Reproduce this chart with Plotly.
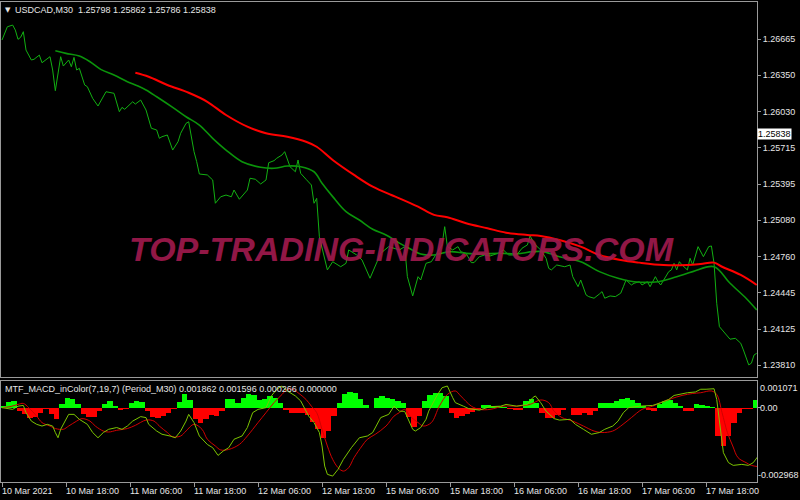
import plotly.graph_objects as go

# ---------------- data (bar index = M30 bars from 10 Mar 2021 00:00) ----------------
price_bar = [0, 2, 4, 5, 6, 7, 8, 9, 11, 12, 14, 15, 18, 19, 20, 22, 23, 25, 26, 27, 28, 29, 31, 32, 34, 36, 39, 42, 44, 45,
             46, 49, 50, 52, 54, 56, 58, 59, 60, 62, 64, 66, 67, 69, 70, 72, 73, 74, 77, 79, 80, 82, 84, 86, 87, 89, 92, 93,
             95, 97, 99, 100, 102, 103, 105, 106, 108, 110, 111, 112, 114, 116, 117, 118, 119, 122, 124, 127, 129, 130, 133,
             135, 138, 140, 142, 145, 149, 151, 152, 154, 156, 157, 159, 161, 163, 165, 166, 167, 169, 171, 172, 174, 176,
             177, 179, 181, 183, 186, 188, 190, 193, 195, 197, 198, 200, 202, 204, 205, 206, 208, 211, 213, 214, 216, 217,
             219, 220, 222, 224, 225, 226, 228, 230, 232, 233, 234, 236, 237, 239, 240, 242, 243, 245, 246, 247, 249, 250,
             251, 252, 253, 254, 255, 257, 258, 259, 261, 262, 263, 265, 266, 267, 268, 269, 271, 273, 275, 277, 278, 280,
             281, 282, 283]
price_close = [1.26659, 1.26775, 1.26790, 1.26746, 1.26665, 1.26683, 1.26732, 1.26571, 1.26484, 1.26490, 1.26527, 1.26460,
               1.26513, 1.26396, 1.26215, 1.26513, 1.26431, 1.26484, 1.26425, 1.26507, 1.26396, 1.26411, 1.26265, 1.26250,
               1.26148, 1.26081, 1.26206, 1.26192, 1.26031, 1.26069, 1.26052, 1.26118, 1.26098, 1.26133, 1.26046, 1.25886,
               1.25871, 1.25798, 1.25812, 1.25827, 1.25695, 1.25768, 1.25842, 1.25929, 1.25943, 1.25681, 1.25593, 1.25485,
               1.25477, 1.25433, 1.25229, 1.25286, 1.25301, 1.25286, 1.25345, 1.25264, 1.25345, 1.25448, 1.25439, 1.25398,
               1.25433, 1.25584, 1.25602, 1.25623, 1.25652, 1.25681, 1.25549, 1.25505, 1.25608, 1.25491, 1.25439, 1.25389,
               1.25229, 1.25272, 1.24936, 1.24645, 1.24717, 1.24673, 1.24703, 1.24820, 1.24776, 1.24732, 1.24572, 1.24688,
               1.24791, 1.24849, 1.24820, 1.24849, 1.24586, 1.24417, 1.24586, 1.24557, 1.24703, 1.24717, 1.24791, 1.24864,
               1.25024, 1.24849, 1.24820, 1.24849, 1.24805, 1.24791, 1.24709, 1.24709, 1.24761, 1.24776, 1.24767, 1.24791,
               1.24820, 1.24776, 1.24776, 1.24835, 1.24864, 1.24942, 1.24864, 1.24820, 1.24747, 1.24659, 1.24645, 1.24688,
               1.24673, 1.24688, 1.24586, 1.24498, 1.24557, 1.24426, 1.24411, 1.24397, 1.24434, 1.24455, 1.24397, 1.24417,
               1.24411, 1.24441, 1.24498, 1.24557, 1.24513, 1.24528, 1.24542, 1.24513, 1.24542, 1.24498, 1.24586, 1.24542,
               1.24513, 1.24586, 1.24630, 1.24645, 1.24703, 1.24645, 1.24717, 1.24688, 1.24645, 1.24747, 1.24688, 1.24849,
               1.24805, 1.24761, 1.24849, 1.24855, 1.24703, 1.24353, 1.24148, 1.24090, 1.24038, 1.24046, 1.24003, 1.23944,
               1.23813, 1.23828, 1.23900, 1.23915]

ma_fast_bar = [20, 24, 29, 33, 37, 42, 47, 51, 54, 58, 64, 69, 74, 79, 84, 90, 97, 102, 107, 112, 117, 120, 124, 129, 134,
               139, 144, 149, 153, 157, 162, 168, 174, 180, 187, 193, 199, 203, 209, 217, 224, 231, 237, 246, 253, 259, 267,
               273, 279, 283]
ma_fast = [1.26565, 1.26542, 1.26519, 1.26469, 1.26402, 1.26352, 1.26294, 1.26256, 1.26221, 1.26162, 1.26069, 1.25987,
           1.25914, 1.25798, 1.25695, 1.25593, 1.25544, 1.25535, 1.25555, 1.25549, 1.25505, 1.25404, 1.25287, 1.25155,
           1.25082, 1.25001, 1.24951, 1.24880, 1.24830, 1.24785, 1.24776, 1.24805, 1.24790, 1.24785, 1.24791, 1.24785,
           1.24805, 1.24805, 1.24761, 1.24717, 1.24630, 1.24572, 1.24542, 1.24542, 1.24586, 1.24630, 1.24673, 1.24528,
           1.24397, 1.24294]

ma_slow_bar = [50, 55, 62, 70, 77, 84, 92, 99, 107, 114, 118, 124, 132, 139, 146, 149, 156, 162, 167, 174, 182, 189, 197,
               202, 209, 217, 224, 232, 239, 248, 257, 262, 267, 270, 277, 283]
ma_slow = [1.26372, 1.26337, 1.26265, 1.26197, 1.26118, 1.26002, 1.25900, 1.25842, 1.25812, 1.25768, 1.25724, 1.25608,
           1.25477, 1.25374, 1.25301, 1.25272, 1.25199, 1.25127, 1.25106, 1.25054, 1.25010, 1.24971, 1.24951, 1.24942,
           1.24907, 1.24849, 1.24776, 1.24732, 1.24709, 1.24688, 1.24688, 1.24697, 1.24709, 1.24673, 1.24601, 1.24513]

# MACD histogram, one value per 2 bars
hist_step = 2
hist = [0.00006, 0.00024, 0.00028, -0.00013, -0.00027, -0.00040, -0.00036, -0.00020, -0.00005, -0.00025,
        -0.00044, 0.00013, 0.00040, 0.00036, 0.00016, -0.00025, -0.00036, -0.00038, -0.00013, 0.00013,
        0.00025, 0.00006, -0.00008, -0.00004, 0.00019, 0.00027, 0.00023, -0.00014, -0.00036, -0.00040,
        -0.00032, -0.00021, -0.00005, 0.00023, 0.00055, 0.00030, -0.00044, -0.00060, -0.00044, -0.00030,
        -0.00032, -0.00012, 0.00033, 0.00035, 0.00019, 0.00040, 0.00053, 0.00050, 0.00031, 0.00035,
        0.00046, 0.00040, 0.00020, -0.00008, -0.00022, -0.00022, -0.00022, -0.00029, -0.00056, -0.00087,
        -0.00120, -0.00094, -0.00032, 0.00019, 0.00053, 0.00062, 0.00060, 0.00033, 0.00009, -0.00003,
        0.00040, 0.00046, 0.00040, 0.00033, 0.00026, 0.00020, -0.00036, -0.00078, -0.00032, 0.00028,
        0.00050, 0.00057, 0.00057, 0.00045, -0.00022, -0.00040, -0.00034, -0.00024, -0.00018, -0.00009,
        0.00009, 0.00009, 0.00006, 0.00006, 0.00002, -0.00005, -0.00011, -0.00008, 0.00027, 0.00035,
        0.00020, -0.00022, -0.00042, -0.00040, -0.00029, -0.00008, -0.00002, -0.00029, -0.00029, -0.00022,
        -0.00029, -0.00013, 0.00020, 0.00020, 0.00020, 0.00025, 0.00033, 0.00040, 0.00031, 0.00020,
        0.00006, -0.00008, -0.00012, 0.00013, 0.00025, 0.00029, 0.00020, 0.00006, -0.00012, -0.00012,
        0.00013, 0.00010, 0.00006, 0.00004, -0.00114, -0.00154, -0.00114, -0.00061, -0.00022, -0.00006,
        -0.00006, 0.00029]

macd_bar = [0, 2, 4, 6, 8, 9, 11, 13, 15, 17, 19, 20, 21, 22, 24, 25, 27, 29, 32, 34, 36, 38, 40, 43, 45, 47, 49, 52, 54,
            55, 58, 60, 63, 65, 67, 69, 70, 72, 74, 77, 79, 81, 83, 85, 87, 90, 92, 94, 96, 99, 101, 103, 105, 107, 110,
            112, 115, 117, 119, 120, 121, 122, 124, 126, 128, 131, 134, 137, 139, 141, 142, 145, 147, 149, 151, 154, 155,
            157, 159, 160, 163, 165, 167, 169, 170, 173, 175, 179, 183, 187, 189, 193, 197, 199, 200, 202, 204, 207, 209,
            213, 215, 218, 221, 224, 226, 229, 231, 233, 235, 239, 244, 247, 250, 252, 255, 257, 260, 262, 264, 267, 268,
            269.3, 270.5, 272.4, 274.2, 277.4, 279.9, 281.7, 283.6]
macd = [0.0, -0.00004, -0.00007, 0.00006, 0.00009, -0.00020, -0.00054, -0.00067, -0.00074, -0.00067, -0.00074, -0.00100,
        -0.00121, -0.00087, -0.00047, -0.00027, -0.00027, -0.00047, -0.00067, -0.00100, -0.00121, -0.00100, -0.00087,
        -0.00080, -0.00087, -0.00074, -0.00054, -0.00036, -0.00040, -0.00067, -0.00094, -0.00107, -0.00114, -0.00121,
        -0.00094, -0.00054, -0.00027, -0.00060, -0.00114, -0.00148, -0.00161, -0.00192, -0.00174, -0.00161, -0.00127,
        -0.00114, -0.00080, -0.00020, -0.00007, 0.0, 0.00047, 0.00074, 0.00087, 0.00067, 0.00047, 0.00027, -0.00034,
        -0.00060, -0.00100, -0.00154, -0.00235, -0.00268, -0.00275, -0.00248, -0.00208, -0.00161, -0.00121, -0.00114,
        -0.00100, -0.00060, -0.00040, -0.00027, 0.00006, -0.00014, -0.00015, -0.00087, -0.00094, -0.00080, -0.00047,
        -0.00014, 0.00047, 0.00080, 0.00087, 0.00040, 0.00020, 0.00006, -0.00004, -0.00010, 0.00004, 0.00006, 0.00013,
        0.00006, 0.00013, 0.00040, 0.00047, 0.00020, -0.00014, -0.00044, -0.00050, -0.00047, -0.00067, -0.00087,
        -0.00107, -0.00100, -0.00087, -0.00074, -0.00054, -0.00020, 0.0, 0.00006, 0.00009, 0.00020, 0.00033, 0.00049,
        0.00057, 0.00060, 0.00063, 0.00074, 0.00074, 0.00076, 0.00033, -0.00087, -0.00181, -0.00221, -0.00232,
        -0.00228, -0.00232, -0.00221, -0.00194]

signal_bar = [0, 3, 6, 8, 10, 13, 15, 18, 20, 23, 25, 28, 30, 33, 35, 38, 40, 43, 47, 50, 54, 57, 59, 62, 64, 67, 69, 72,
              75, 77, 80, 82, 85, 89, 92, 96, 99, 102, 105, 107, 109, 111, 114, 116, 118, 120, 122, 124, 126, 128, 130,
              132, 135, 137, 140, 144, 147, 149, 151, 153, 156, 158, 161, 164, 167, 170, 172, 176, 179, 183, 188, 193,
              198, 202, 205, 207, 210, 214, 218, 222, 225, 229, 232, 236, 240, 244, 247, 251, 255, 259, 262, 266, 268,
              270, 272, 274, 276, 279, 281, 283.5]
signal = [0.0, 0.00004, 0.00013, 0.00017, 0.0, -0.00034, -0.00060, -0.00074, -0.00084, -0.00087, -0.00074, -0.00054,
          -0.00044, -0.00054, -0.00074, -0.00094, -0.00098, -0.00091, -0.00084, -0.00071, -0.00050, -0.00054, -0.00074,
          -0.00100, -0.00117, -0.00114, -0.00094, -0.00067, -0.00087, -0.00127, -0.00154, -0.00170, -0.00168, -0.00148,
          -0.00114, -0.00060, -0.00020, 0.00020, 0.00053, 0.00074, 0.00074, 0.00060, 0.00033, 0.00006, -0.00020,
          -0.00087, -0.00154, -0.00208, -0.00241, -0.00255, -0.00241, -0.00201, -0.00154, -0.00127, -0.00107, -0.00074,
          -0.00034, -0.00020, -0.00007, -0.00034, -0.00060, -0.00074, -0.00060, 0.00006, 0.00053, 0.00067, 0.00047,
          0.00006, -0.00007, -0.00007, 0.00006, 0.00006, 0.00013, 0.00031, 0.00020, -0.00014, -0.00040, -0.00054,
          -0.00074, -0.00094, -0.00100, -0.00094, -0.00074, -0.00040, -0.00007, 0.00006, 0.00020, 0.00036, 0.00049,
          0.00057, 0.00060, 0.00067, 0.00053, -0.00020, -0.00100, -0.00154, -0.00201, -0.00221, -0.00232, -0.00237]

price_ticks = [1.26665, 1.26350, 1.26030, 1.25715, 1.25395, 1.25080, 1.24760, 1.24445, 1.24125, 1.23810]
current_price = 1.25838
time_tick_bars = [0, 24, 48, 72, 96, 120, 144, 168, 192, 216, 240, 264]
time_tick_labels = ["10 Mar 2021", "10 Mar 18:00", "11 Mar 06:00", "11 Mar 18:00", "12 Mar 06:00", "12 Mar 18:00",
                    "15 Mar 06:00", "15 Mar 18:00", "16 Mar 06:00", "16 Mar 18:00", "17 Mar 06:00", "17 Mar 18:00"]
ind_max, ind_min = 0.001071, -0.002968

title_text = "USDCAD,M30  1.25798 1.25862 1.25786 1.25838"
ind_text = "MTF_MACD_inColor(7,19,7) (Period_M30) 0.001862 0.001596 0.000266 0.000000"

# ---------------- figure ----------------
W, H = 800, 500
FONT = "Liberation Sans"
FG = "#e6e6e6"
FRAME = "#9a9a9a"

fig = go.Figure()

# main panel
fig.add_trace(go.Scatter(x=price_bar, y=price_close, mode="lines", line=dict(color="#12b012", width=1),
                         xaxis="x", yaxis="y", hoverinfo="skip"))
fig.add_trace(go.Scatter(x=ma_fast_bar, y=ma_fast, mode="lines", line=dict(color="#0b940b", width=1.6, shape="spline"),
                         xaxis="x", yaxis="y", hoverinfo="skip"))
fig.add_trace(go.Scatter(x=ma_slow_bar, y=ma_slow, mode="lines", line=dict(color="#ff0000", width=2, shape="spline"),
                         xaxis="x", yaxis="y", hoverinfo="skip"))

# indicator panel
hist_x = [hist_step * k + 0.5 for k in range(len(hist))]
hist_col = ["#00ff00" if v >= 0 else "#ff0000" for v in hist]
fig.add_trace(go.Bar(x=hist_x, y=hist, width=hist_step, marker=dict(color=hist_col, line=dict(width=0)),
                     xaxis="x2", yaxis="y2", hoverinfo="skip"))
fig.add_trace(go.Scatter(x=signal_bar, y=signal, mode="lines", line=dict(color="#d00000", width=1, shape="spline"),
                         xaxis="x2", yaxis="y2", hoverinfo="skip"))
fig.add_trace(go.Scatter(x=macd_bar, y=macd, mode="lines", line=dict(color="#7cc400", width=1),
                         xaxis="x2", yaxis="y2", hoverinfo="skip"))

x_left, x_right = 1, 757
xdom = [x_left / W, x_right / W]
xrange = [-0.375, 283.1]

main_top, main_bot = 2, 377
ind_top, ind_bot = 381, 481.5

def pt(py):
    return (H - py) / H

axis_font = dict(family=FONT, size=9, color=FG)

fig.update_layout(
    width=W, height=H,
    margin=dict(l=0, r=0, t=0, b=0),
    paper_bgcolor="#000000", plot_bgcolor="#000000",
    showlegend=False, bargap=0,
    xaxis=dict(domain=xdom, range=xrange, anchor="y", showgrid=False, zeroline=False, showticklabels=False,
               showline=True, mirror=True, linecolor=FRAME, linewidth=1, ticks=""),
    yaxis=dict(domain=[pt(main_bot), pt(main_top)], range=[1.23707, 1.26992], anchor="x", side="right",
               showgrid=False, zeroline=False, showline=True, mirror=True, linecolor=FRAME, linewidth=1,
               tickvals=price_ticks, ticktext=["%.5f" % v for v in price_ticks], ticks="outside", ticklen=3,
               tickcolor=FRAME, tickfont=axis_font),
    xaxis2=dict(domain=xdom, range=xrange, matches="x", anchor="y2", showgrid=False, zeroline=False,
                showticklabels=False, showline=True, mirror=True, linecolor=FRAME, linewidth=1,
                tickvals=time_tick_bars, ticks="outside", ticklen=4, tickcolor=FRAME),
    yaxis2=dict(domain=[pt(ind_bot), pt(ind_top)], range=[ind_min, ind_max], anchor="x2", side="right",
                showgrid=False, zeroline=False, showline=True, mirror=True, linecolor=FRAME, linewidth=1,
                tickvals=[0], ticks="outside", ticklen=3, tickcolor=FRAME, showticklabels=False),
)

ann = []
# x-axis labels (left-aligned at tick, MT4 style)
for b, t in zip(time_tick_bars, time_tick_labels):
    ann.append(dict(x=b, xref="x2", y=pt(491), yref="paper", text=t, showarrow=False, xanchor="left",
                    yanchor="middle", xshift=-2, font=axis_font))
# indicator scale labels
lab_x = (x_right + 1) / W
ann.append(dict(x=lab_x, xref="paper", y=ind_max, yref="y2", text="%.6f" % ind_max, showarrow=False,
                xanchor="left", yanchor="top", font=axis_font))
ann.append(dict(x=lab_x, xref="paper", y=0, yref="y2", text="0.00", showarrow=False,
                xanchor="left", yanchor="middle", font=axis_font))
ann.append(dict(x=lab_x, xref="paper", y=ind_min, yref="y2", text="%.6f" % ind_min, showarrow=False,
                xanchor="left", yanchor="bottom", xshift=-2, font=axis_font))
# current price box
ann.append(dict(x=x_right / W, xref="paper", y=current_price, yref="y", text="%.5f" % current_price,
                showarrow=False, xanchor="left", yanchor="middle", bgcolor="#ffffff", borderpad=0,
                font=dict(family=FONT, size=9, color="#000000")))
# title
ann.append(dict(x=3 / W, xref="paper", y=pt(9.5), yref="paper", text="▼", showarrow=False, xanchor="left",
                yanchor="middle", font=dict(family="DejaVu Sans", size=7, color=FG)))
ann.append(dict(x=13 / W, xref="paper", y=pt(9.5), yref="paper", text=title_text, showarrow=False,
                xanchor="left", yanchor="middle", font=axis_font))
# indicator name
ann.append(dict(x=3 / W, xref="paper", y=pt(389), yref="paper", text=ind_text, showarrow=False,
                xanchor="left", yanchor="middle", font=axis_font))
# watermark
ann.append(dict(x=401 / W, xref="paper", y=pt(249), yref="paper", text="<b><i>TOP-TRADING-INDICATORS.COM</i></b>",
                showarrow=False, xanchor="center", yanchor="middle", opacity=0.9,
                font=dict(family=FONT, size=34, color="#a21a4e")))
fig.update_layout(annotations=ann)

fig.write_html("out.html",
               config={"displayModeBar": False, "staticPlot": True},
               post_script="document.body.style.margin='0';document.body.style.padding='0';"
                           "document.documentElement.style.overflow='hidden';")
